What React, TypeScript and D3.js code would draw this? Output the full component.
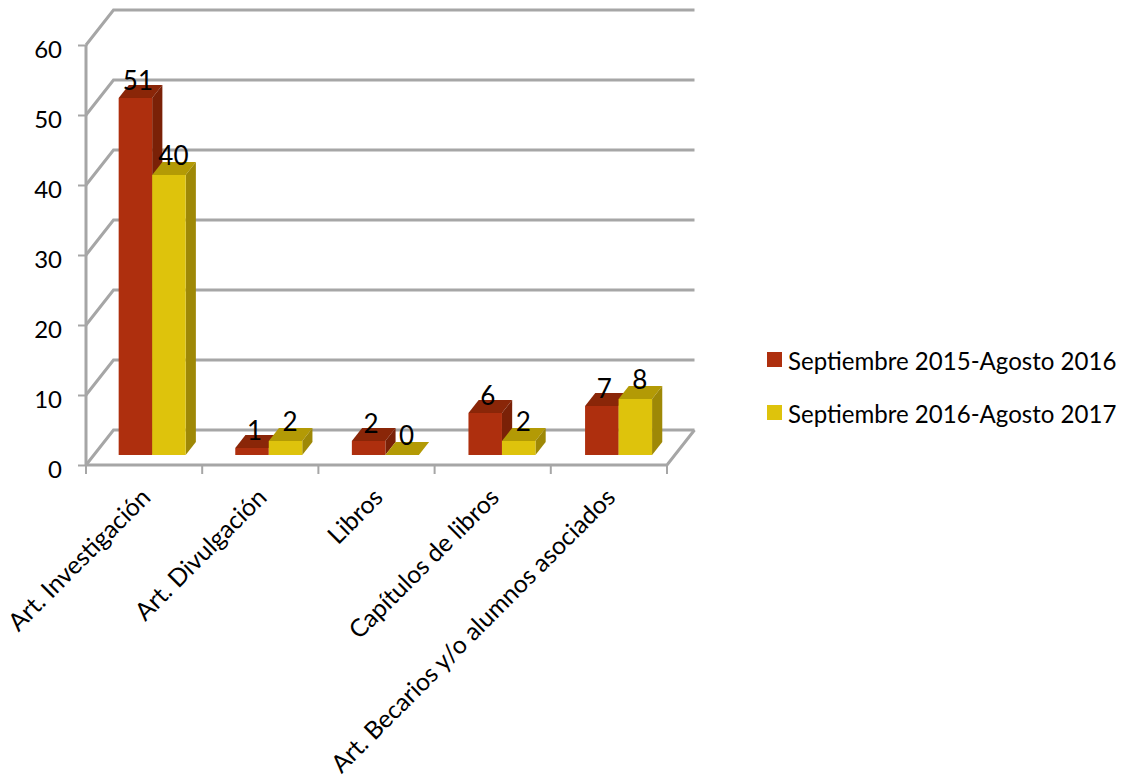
import React, { useEffect, useRef } from 'react'
import * as d3 from 'd3'

const categories = ['Art. Investigación', 'Art. Divulgación', 'Libros', 'Capítulos de libros', 'Art. Becarios y/o alumnos asociados']
const seriesNames = ['Septiembre 2015-Agosto 2016', 'Septiembre 2016-Agosto 2017']
const values2016 = [51, 1, 2, 6, 7]
const values2017 = [40, 2, 0, 2, 8]
const yTicks = [0, 10, 20, 30, 40, 50, 60]

const FONT = 'Lato, "Open Sans", sans-serif'
const GRID = '#a6a6a6'
// front, top, side
const palette = [
  ['#ae2f0e', '#8a2608', '#7a2107'],
  ['#dec30c', '#b39a05', '#9e8806'],
]

export default function App() {
  const svgRef = useRef<SVGSVGElement | null>(null)

  useEffect(() => {
    const svg = d3.select(svgRef.current)
    svg.selectAll('*').remove()

    const x = d3.scaleBand<string>().domain(categories).range([86, 667])
    // the bars step a little wider than the axis ticks in the original
    const xBars = d3.scaleBand<string>().domain(categories).range([86, 669])
    const y = d3.scaleLinear().domain([0, 60]).range([465, 45])
    const depthX = 27.5
    const depthY = -35
    const px = (vx: number, z: number) => vx + depthX * z
    const py = (vy: number, z: number) => vy + depthY * z
    const poly = (pts: number[][]) => pts.map(p => p.join(',')).join(' ')

    // walls
    const grid = svg.append('g').attr('fill', 'none').attr('stroke', GRID).attr('stroke-width', 3)
    yTicks.forEach(t => {
      grid.append('polyline').attr('points', poly([
        [x.range()[0], y(t)],
        [px(x.range()[0], 1), py(y(t), 1)],
        [px(x.range()[1], 1), py(y(t), 1)],
      ]))
    })
    grid.append('line').attr('x1', 86).attr('x2', 86).attr('y1', y(60)).attr('y2', y(0))
    grid.append('polyline').attr('points', poly([
      [86, y(0)],
      [667, y(0)],
      [px(667, 1), py(y(0), 1)],
    ]))

    // y axis labels and ticks
    const yAxis = svg.append('g')
      .attr('transform', 'translate(86,0)')
      .call(d3.axisLeft(y).tickValues(yTicks).tickSize(8).tickPadding(16).tickFormat(d3.format('d')))
    yAxis.select('.domain').remove()
    yAxis.selectAll('.tick line').attr('stroke', GRID).attr('stroke-width', 2)
    yAxis.selectAll('.tick text').attr('font-family', FONT).attr('font-size', 24).attr('fill', '#000').attr('dy', 12)

    // x axis ticks
    const xTicks = d3.range(categories.length + 1).map(i => 86 + i * x.bandwidth())
    svg.append('g').selectAll('line').data(xTicks).join('line')
      .attr('x1', d => d).attr('x2', d => d)
      .attr('y1', y(0)).attr('y2', y(0) + 9)
      .attr('stroke', GRID).attr('stroke-width', 2)

    // rotated labels
    svg.append('g').selectAll('text').data(categories).join('text')
      .attr('transform', d => `translate(${(x(d) as number) + 66},${y(0) + 34}) rotate(-45)`)
      .attr('text-anchor', 'end')
      .attr('font-family', FONT).attr('font-size', 24.7).attr('fill', '#000')
      .text(d => d)

    // bars
    const inner = d3.scaleBand<number>().domain([0, 1]).range([0, 67])
    const zFront = 0.286
    const zBack = 0.657
    const bars = svg.append('g')
    const labels: { cx: number; top: number; v: number; s: number }[] = []
    categories.forEach((c, i) => {
      ;[values2016, values2017].forEach((vals, s) => {
        const v = vals[i]
        const x0 = px((xBars(c) as number) + xBars.bandwidth() / 2 - 33.5 + (inner(s) as number), zFront)
        const x1 = x0 + inner.bandwidth()
        const yb = py(y(0), zFront)
        const yt = py(y(v), zFront)
        const dx = depthX * (zBack - zFront)
        const dy = depthY * (zBack - zFront)
        const g = bars.append('g')
        g.append('polygon').attr('fill', palette[s][1]).attr('points', poly([[x0, yt], [x1, yt], [x1 + dx, yt + dy], [x0 + dx, yt + dy]]))
        g.append('polygon').attr('fill', palette[s][2]).attr('points', poly([[x1, yt], [x1 + dx, yt + dy], [x1 + dx, yb + dy], [x1, yb]]))
        g.append('rect').attr('fill', palette[s][0]).attr('x', x0).attr('y', yt).attr('width', x1 - x0).attr('height', yb - yt)
        labels.push({ cx: (x0 + x1) / 2, top: yt, v, s })
      })
    })

    // data labels
    svg.append('g').selectAll('text').data(labels).join('text')
      .attr('x', d => d.cx + (d.s === 0 ? 2.5 : 4.5))
      .attr('y', d => d.top - (d.s === 0 ? 8 : 10))
      .attr('text-anchor', 'middle')
      .attr('font-family', FONT).attr('font-size', 26).attr('fill', '#000')
      .text(d => d.v)

    // legend
    const legend = svg.append('g').selectAll('g').data(seriesNames).join('g')
      .attr('transform', (_, i) => `translate(767,${352 + i * 53})`)
    legend.append('rect').attr('width', 15).attr('height', 15).attr('fill', (_, i) => palette[i][0])
    legend.append('text').attr('x', 21).attr('y', 18)
      .attr('font-family', FONT).attr('font-size', 24.05).attr('fill', '#000')
      .text(d => d)
  }, [])

  return <svg ref={svgRef} width={1122} height={779} style={{ position: 'absolute', left: 0, top: 0 }}></svg>
}
